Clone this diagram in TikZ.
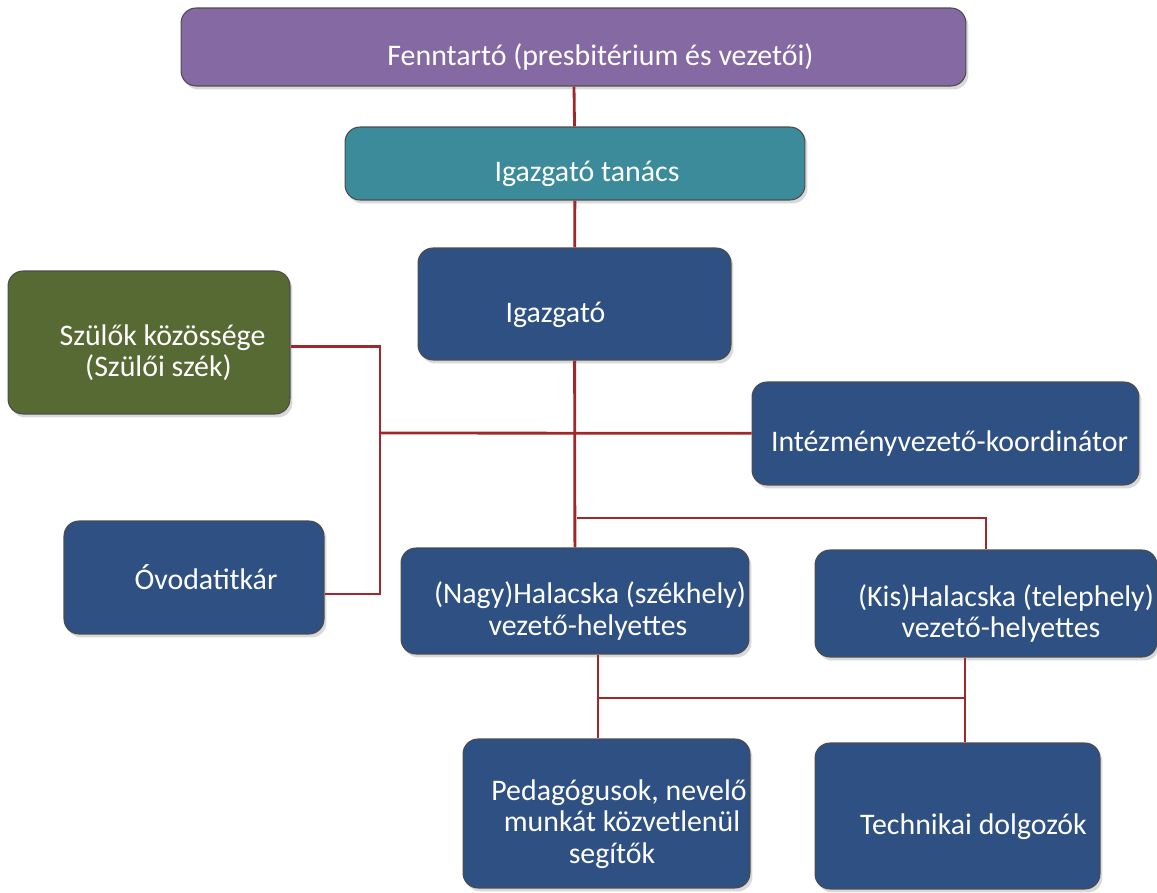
\documentclass[tikz,border=0pt]{standalone}
\usepackage{fontspec}
\setmainfont{Carlito}
\usetikzlibrary{shadows}
\definecolor{lila}{HTML}{8569A3}
\definecolor{turkiz}{HTML}{3B8B9A}
\definecolor{kek}{HTML}{2E5082}
\definecolor{oliva}{HTML}{576A34}
\definecolor{bordo}{HTML}{A0282A}
\begin{document}
\begin{tikzpicture}[x=0.02cm, y=-0.02cm,
  doboz/.style={rectangle, rounded corners=0.3cm, draw=gray!60!black, line width=0.6pt, fill=kek,
    text=white, align=flush center, inner sep=0pt, text height=21pt, text depth=0pt,
    font=\fontsize{17}{18}\selectfont,
    drop shadow={opacity=0.3, shadow xshift=0.05cm, shadow yshift=-0.07cm}},
  ketsor/.style={text height=10pt, text depth=7pt},
  haromsor/.style={text height=5pt, text depth=20pt},
  vonal/.style={draw=bordo, line width=1.6pt}]

  \useasboundingbox (0,0) rectangle (1157,893);

  \node[doboz, fill=lila, text width=15.7cm, minimum height=1.56cm] at (573.5,47) (fenn) {\hspace*{1.08cm}Fenntartó (presbitérium és vezetői)};
  \node[doboz, fill=turkiz, text width=9.2cm, minimum height=1.46cm] at (575,163.5) (tanacs) {\hspace*{0.48cm}Igazgató tanács};
  \node[doboz, text width=6.26cm, minimum height=2.24cm] at (574.5,304) (igazgato) {\hspace*{-0.76cm}Igazgató};
  \node[doboz, ketsor, fill=oliva, text width=5.64cm, minimum height=2.86cm] at (149,342.5) (szulok) {\hspace*{0.54cm}Szülők közössége\\\hspace*{0.38cm}(Szülői szék)};
  \node[doboz, text width=7.74cm, minimum height=2.06cm] at (945.5,433.5) (koord) {\hspace*{0.16cm}Intézményvezető-koordinátor};
  \node[doboz, text height=14pt, text width=5.2cm, minimum height=2.26cm] at (194,577.5) (ovoda) {\hspace*{0.48cm}Óvodatitkár};
  \node[doboz, ketsor, text width=6.96cm, minimum height=2.12cm] at (575,601) (nagy) {\hspace*{0.6cm}(Nagy)Halacska (székhely)\\\hspace*{0.52cm}vezető-helyettes};
  \node[doboz, ketsor, text width=6.84cm, minimum height=2.14cm] at (986,603.5) (kis) {\hspace*{0.8cm}(Kis)Halacska (telephely)\\\hspace*{0.6cm}vezető-helyettes};
  \node[doboz, haromsor, text width=5.74cm, minimum height=2.98cm] at (606.5,813.5) (ped) {\hspace*{0.5cm}Pedagógusok, nevelő\\\hspace*{0.62cm}munkát közvetlenül\\\hspace*{0.22cm}segítők};
  \node[doboz, text width=5.7cm, minimum height=2.92cm] at (957.5,816) (tech) {\hspace*{0.64cm}Technikai dolgozók};

  \coordinate (bal) at (380,433);
  \coordinate (elag) at (577,518);
  \coordinate (also1) at (598,698);
  \coordinate (also2) at (965,698);

  \path[vonal] (fenn) -- (tanacs);
  \path[vonal] (tanacs) -- (igazgato);
  \path[vonal] (igazgato) -- (nagy);
  \path[vonal] ([yshift=-0.08cm]szulok.east) -| (bal);
  \path[vonal] ([yshift=-0.33cm]ovoda.east) -| (bal);
  \path[vonal] (bal) -- (koord);
  \path[vonal] (elag) -| (kis);
  \path[vonal] (nagy.south -| also1) -- (ped.north -| also1);
  \path[vonal] (kis.south -| also2) -- (tech.north -| also2);
  \path[vonal] (also1) -- (also2);
\end{tikzpicture}
\end{document}
